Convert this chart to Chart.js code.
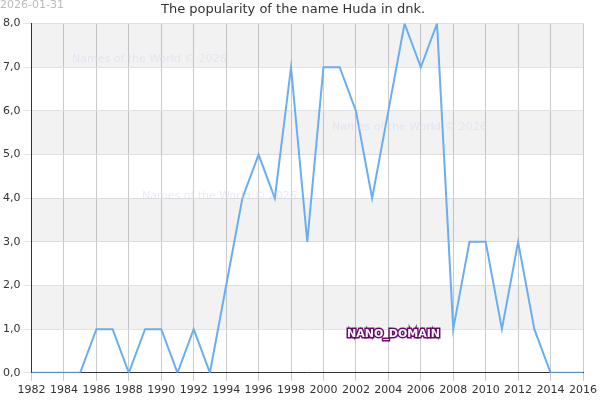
<!DOCTYPE html>
<html><head><meta charset="utf-8">
<script src="https://cdn.jsdelivr.net/npm/chart.js@4/dist/chart.umd.min.js"></script>
<style>body{margin:0;background:#fff}</style>
</head><body><canvas id="c" width="600" height="400" style="width:600px;height:400px"></canvas>
<script>
const years = [];
for (let y = 1982; y <= 2016; y++) years.push(y);
const counts = [0,0,0,0,1,1,0,1,1,0,1,0,2,4,5,4,7,3,7,7,6,4,6,8,7,8,1,3,3,1,3,1,0,0,0];

const bands = {
  id: 'bands',
  beforeDatasetsDraw(chart) {
    const {ctx, chartArea: a, scales: {y}} = chart;
    ctx.save();
    ctx.fillStyle = 'rgba(0,0,0,0.05)';
    for (let v = 1; v < 8; v += 2) {
      const t = y.getPixelForValue(v + 1), b = y.getPixelForValue(v);
      ctx.fillRect(a.left, t, a.right - a.left, b - t);
    }
    ctx.restore();
  }
};
const extras = {
  id: 'extras',
  afterDraw(chart) {
    const {ctx} = chart;
    ctx.save();
    ctx.font = '11px "DejaVu Sans"';
    ctx.fillStyle = '#bbbbbb';
    ctx.fillText('2026-01-31', 0, 8);
    ctx.fillStyle = 'rgba(210,215,235,0.5)';
    ctx.fillText('Names of the World © 2026', 72, 62);
    ctx.fillText('Names of the World © 2026', 332, 130);
    ctx.fillText('Names of the World © 2026', 142, 199);
    ctx.font = 'bold 11px "DejaVu Sans"';
    ctx.lineWidth = 3; ctx.strokeStyle = '#6a0a6a';
    ctx.strokeText('NANO_DOMAIN', 347, 337);
    ctx.fillStyle = '#ffffff';
    ctx.fillText('NANO_DOMAIN', 347, 337);
    ctx.restore();
  }
};

new Chart(document.getElementById('c'), {
  type: 'line',
  data: {
    datasets: [{
      data: years.map((y, i) => ({x: y, y: counts[i]})),
      borderColor: '#6aaef0',
      borderWidth: 2,
      pointRadius: 0,
      tension: 0
    }]
  },
  options: {
    responsive: false,
    animation: false,
    devicePixelRatio: 1,
    layout: {padding: {right: 14}},
    plugins: {
      legend: {display: false},
      tooltip: {enabled: false},
      title: {display: true, text: 'The popularity of the name Huda in dnk.',
        color: '#333', font: {family: 'DejaVu Sans', size: 13, weight: 'normal'}, padding: {top: 2, bottom: 6}}
    },
    scales: {
      x: {type: 'linear', min: 1982, max: 2016,
        ticks: {stepSize: 2, color: '#333', font: {family: 'DejaVu Sans', size: 11}, callback: v => String(v), maxRotation: 0},
        grid: {color: '#cccccc'}, border: {color: '#333'}},
      y: {min: 0, max: 8,
        ticks: {stepSize: 1, color: '#333', font: {family: 'DejaVu Sans', size: 11}, callback: v => v.toFixed(1).replace('.', ',')},
        grid: {color: '#e4e4e4'}, border: {color: '#333'}}
    }
  },
  plugins: [bands, extras]
});
</script></body></html>
